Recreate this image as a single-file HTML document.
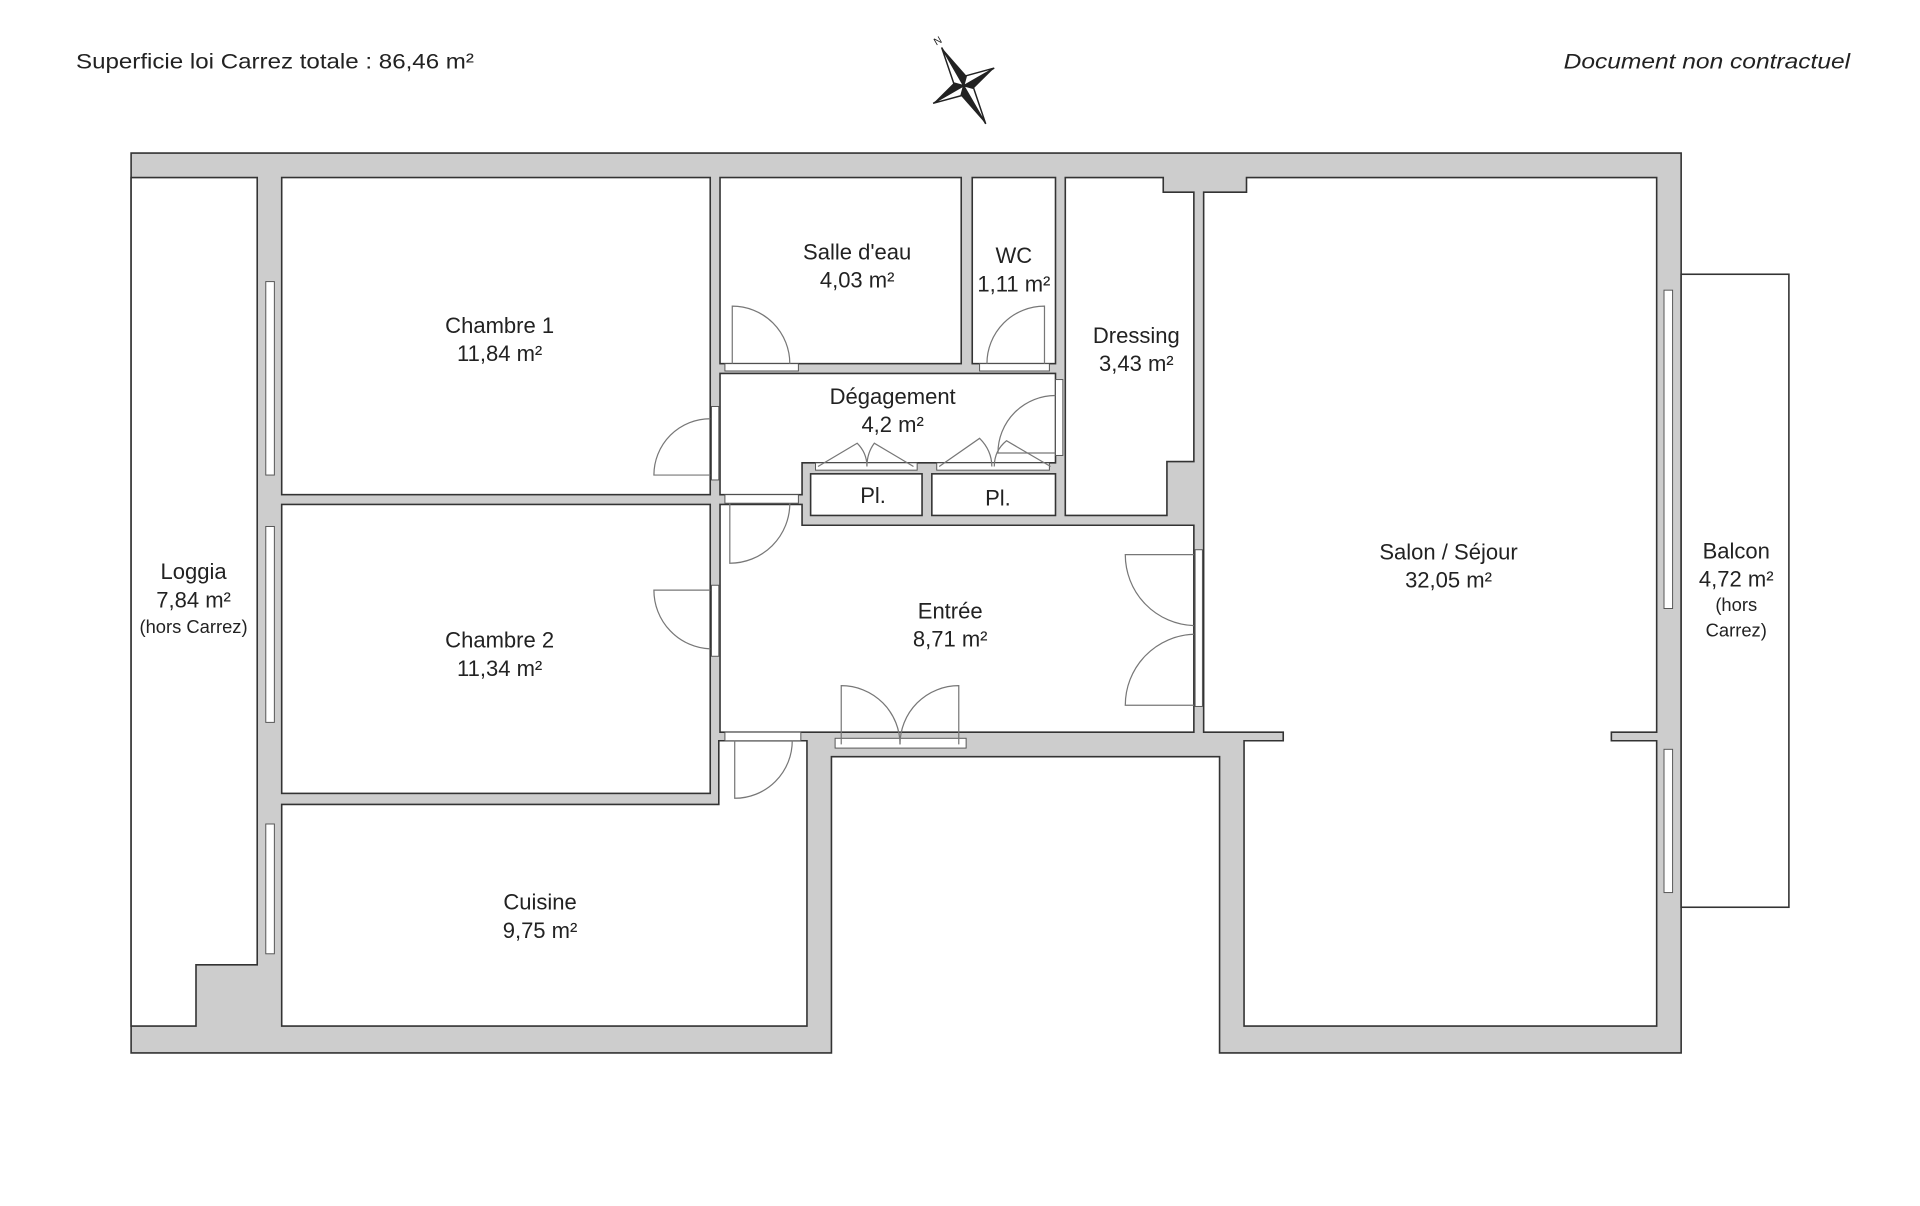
<!DOCTYPE html>
<html><head><meta charset="utf-8">
<style>
html,body{margin:0;padding:0;background:#fff;width:1920px;height:1206px;overflow:hidden}
svg{display:block}
text{font-family:"Liberation Sans",sans-serif;fill:#222;text-anchor:middle}
.w{fill:#fff;stroke:#333;stroke-width:1.3}
.d{fill:none;stroke:#777;stroke-width:1}
.win{fill:#fff;stroke:#555;stroke-width:0.8}
</style></head><body>
<svg width="1920" height="1206" viewBox="0 0 1568 985" xmlns="http://www.w3.org/2000/svg">
<text x="62" y="56" style="font-size:17px;text-anchor:start" textLength="325" lengthAdjust="spacingAndGlyphs">Superficie loi Carrez totale :  86,46 m²</text>
<text x="1511" y="56" style="font-size:17px;font-style:italic;text-anchor:end" textLength="234" lengthAdjust="spacingAndGlyphs">Document non contractuel</text>
<!-- compass -->
<g transform="translate(787,70) rotate(-30) scale(1.2)">
<polygon points="0,-30 5,-5 0,0" fill="#222"/><polygon points="0,-30 -5,-5 0,0" fill="#fff" stroke="#222"/>
<polygon points="0,30 -5,5 0,0" fill="#222"/><polygon points="0,30 5,5 0,0" fill="#fff" stroke="#222"/>
<polygon points="24,0 5,5 0,0" fill="#222"/><polygon points="24,0 5,-5 0,0" fill="#fff" stroke="#222"/>
<polygon points="-24,0 -5,-5 0,0" fill="#222"/><polygon points="-24,0 -5,5 0,0" fill="#fff" stroke="#222"/>
<text x="0" y="-33" style="font-size:7px">N</text>
</g>
<!-- gray footprint -->
<polygon points="107,125 1373,125 1373,860 996,860 996,618 679,618 679,860 107,860" fill="#cdcdcd" stroke="#333" stroke-width="1.3"/>
<!-- balcon -->
<rect class="w" x="1373" y="224" width="88" height="517"/>
<!-- loggia -->
<polygon class="w" points="107,145 210,145 210,788 160,788 160,838 107,838"/>
<!-- rooms -->
<rect class="w" x="230" y="145" width="350" height="259"/>
<rect class="w" x="230" y="412" width="350" height="236"/>
<polygon class="w" points="230,657 587,657 587,605 659,605 659,838 230,838"/>
<rect class="w" x="588" y="145" width="197" height="152"/>
<rect class="w" x="794" y="145" width="68" height="152"/>
<polygon class="w" points="588,305 862,305 862,378 655,378 655,404 588,404"/>
<rect class="w" x="662" y="387" width="91" height="34"/>
<rect class="w" x="761" y="387" width="101" height="34"/>
<polygon class="w" points="870,145 950,145 950,157 975,157 975,377 953,377 953,421 870,421"/>
<polygon class="w" points="588,412 655,412 655,429 975,429 975,598 588,598"/>
<polygon class="w" points="983,157 1018,157 1018,145 1353,145 1353,598 1316,598 1316,605 1353,605 1353,838 1016,838 1016,605 1048,605 1048,598 983,598"/>
<!-- windows -->
<rect class="win" x="217" y="230" width="7" height="158"/>
<rect class="win" x="217" y="430" width="7" height="160"/>
<rect class="win" x="217" y="673" width="7" height="106"/>
<rect class="win" x="1359" y="237" width="7" height="260"/>
<rect class="win" x="1359" y="612" width="7" height="117"/>
<!-- door openings -->
<rect class="win" x="592" y="297" width="60" height="6"/>
<rect class="win" x="800" y="297" width="57" height="6"/>
<rect class="win" x="581" y="332" width="6" height="60"/>
<rect class="win" x="581" y="478" width="6" height="58"/>
<rect class="win" x="592" y="404" width="60" height="7"/>
<rect class="win" x="592" y="598" width="62" height="7"/>
<rect class="win" x="862" y="310" width="6" height="62"/>
<rect class="win" x="976" y="449" width="6" height="128"/>
<rect class="win" x="682" y="603" width="107" height="8"/>
<rect class="win" x="666" y="378" width="83" height="6"/>
<rect class="win" x="765" y="378" width="92" height="6"/>
<!-- door swings -->
<path class="d" d="M598,297 V250 A47,47 0 0 1 645,297"/>
<path class="d" d="M853,297 V250 A47,47 0 0 0 806,297"/>
<path class="d" d="M580,388 H534 A46,46 0 0 1 580,342"/>
<path class="d" d="M580,482 H534 A48,48 0 0 0 580,530"/>
<path class="d" d="M596,411 V460 A49,49 0 0 0 645,411"/>
<path class="d" d="M600,605 V652 A47,47 0 0 0 647,605"/>
<path class="d" d="M862,370 H815 A47,47 0 0 1 862,323"/>
<path class="d" d="M975,453 H919 A58,58 0 0 0 975,511"/>
<path class="d" d="M975,576 H919 A58,58 0 0 1 975,518"/>
<path class="d" d="M687,608 V560 A48,48 0 0 1 735,608"/>
<path class="d" d="M783,608 V560 A48,48 0 0 0 735,608"/>
<path class="d" d="M668,381 L700,362 Q708,370 708,381 M746,381 L714,362 Q708,370 708,381"/>
<path class="d" d="M767,381 L800,358 Q810,368 810,381 M858,381 L822,360 Q812,368 812,381"/>
<!-- labels -->
<g style="font-size:18px">
<text x="408" y="272">Chambre 1</text><text x="408" y="295">11,84 m²</text>
<text x="408" y="529">Chambre 2</text><text x="408" y="552">11,34 m²</text>
<text x="441" y="743">Cuisine</text><text x="441" y="766">9,75 m²</text>
<text x="700" y="212">Salle d'eau</text><text x="700" y="235">4,03 m²</text>
<text x="828" y="215">WC</text><text x="828" y="238">1,11 m²</text>
<text x="928" y="280">Dressing</text><text x="928" y="303">3,43 m²</text>
<text x="729" y="330">Dégagement</text><text x="729" y="353">4,2 m²</text>
<text x="713" y="411">Pl.</text><text x="815" y="413">Pl.</text>
<text x="776" y="505">Entrée</text><text x="776" y="528">8,71 m²</text>
<text x="1183" y="457">Salon / Séjour</text><text x="1183" y="480">32,05 m²</text>
<text x="158" y="473">Loggia</text><text x="158" y="496">7,84 m²</text>
<text x="1418" y="456">Balcon</text><text x="1418" y="479">4,72 m²</text>
</g>
<text x="158" y="517" style="font-size:15px">(hors Carrez)</text>
<text x="1418" y="499" style="font-size:15px">(hors</text>
<text x="1418" y="520" style="font-size:15px">Carrez)</text>
</svg>
</body></html>
